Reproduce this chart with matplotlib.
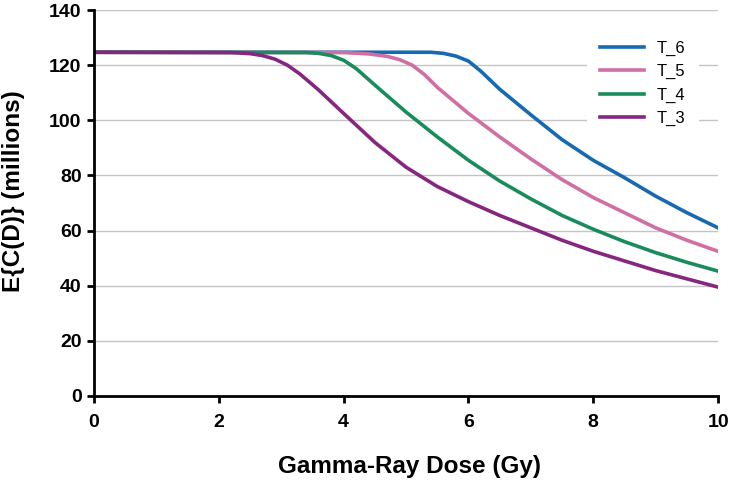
import matplotlib.pyplot as plt

plt.rcParams['font.family'] = ['Liberation Sans', 'DejaVu Sans']

# dose (Gy) and E{C(D)} (millions)
x_t6 = [0, 5, 5.4, 5.6, 5.8, 6.0, 6.2, 6.5, 7, 7.5, 8, 8.5, 9, 9.5, 10]
y_t6 = [124.7, 124.7, 124.7, 124.3, 123.3, 121.5, 117.8, 111.3, 102, 93, 85.5, 79.2, 72.5, 66.5, 61]

x_t5 = [0, 4, 4.4, 4.7, 4.9, 5.1, 5.3, 5.5, 6, 6.5, 7, 7.5, 8, 8.5, 9, 9.5, 10]
y_t5 = [124.7, 124.6, 124.1, 123.2, 122, 120, 116.5, 112, 102.5, 94, 86, 78.5, 72, 66.5, 61, 56.5, 52.5]

x_t4 = [0, 3.4, 3.6, 3.8, 4.0, 4.2, 4.5, 5, 5.5, 6, 6.5, 7, 7.5, 8, 8.5, 9, 9.5, 10]
y_t4 = [124.7, 124.6, 124.3, 123.5, 121.8, 118.8, 112.8, 103, 94, 85.5, 78, 71.5, 65.5, 60.5, 56, 52, 48.5, 45.3]

x_t3 = [0, 2.2, 2.5, 2.7, 2.9, 3.1, 3.3, 3.6, 4, 4.5, 5, 5.5, 6, 6.5, 7, 7.5, 8, 8.5, 9, 9.5, 10]
y_t3 = [124.7, 124.6, 124.2, 123.5, 122.2, 120, 116.8, 111, 102.5, 92, 83, 76, 70.5, 65.5, 61, 56.5, 52.5, 49, 45.5, 42.5, 39.5]

fig = plt.figure(figsize=(7.29, 4.8), dpi=100)
ax = fig.add_axes([0.129, 0.175, 0.856, 0.804])

ax.plot(x_t6, y_t6, color='#1769b0', lw=2.6, label='T_6', solid_joinstyle='round')
ax.plot(x_t5, y_t5, color='#cf6fa3', lw=2.6, label='T_5', solid_joinstyle='round')
ax.plot(x_t4, y_t4, color='#1a8c5c', lw=2.6, label='T_4', solid_joinstyle='round')
ax.plot(x_t3, y_t3, color='#86277f', lw=2.6, label='T_3', solid_joinstyle='round')

ax.set_xlim(0, 10)
ax.set_ylim(0, 140)
ax.set_xticks(range(0, 11, 2))
ax.set_yticks(range(0, 141, 20))
ax.yaxis.grid(True, color='#c4c4c4', lw=1)
ax.set_axisbelow(True)

for s in ['top', 'right']:
    ax.spines[s].set_visible(False)
for s in ['left', 'bottom']:
    ax.spines[s].set_linewidth(2)
ax.tick_params(width=2, length=5, labelsize=14)
ax.tick_params(axis='x', pad=8)
ax.tick_params(axis='y', pad=4)
for lab in ax.get_xticklabels() + ax.get_yticklabels():
    lab.set_fontweight('bold')

ax.set_xlabel('Gamma-Ray Dose (Gy)', fontsize=17.5, fontweight='bold')
ax.xaxis.set_label_coords(0.506, -0.153)
ax.set_ylabel('E{C(D)} (millions)', fontsize=17.5, fontweight='bold')
ax.yaxis.set_label_coords(-0.111, 0.532)

leg = ax.legend(loc='upper left', bbox_to_anchor=(0.79, 0.955), borderaxespad=0,
                frameon=True, facecolor='white', edgecolor='none', framealpha=1,
                fontsize=12, handlelength=2.6, labelspacing=0.5, borderpad=0.8)

fig.savefig('out.png', dpi=100)
